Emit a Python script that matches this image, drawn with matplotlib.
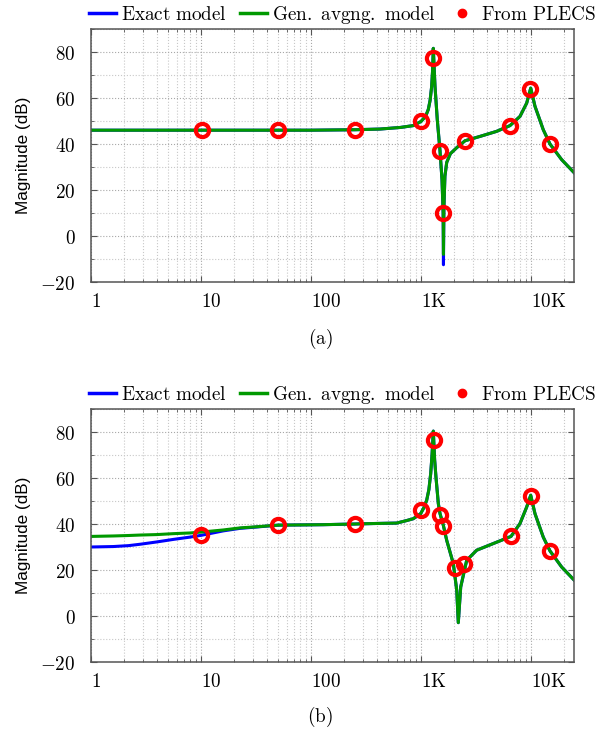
import matplotlib
matplotlib.use('Agg')
import matplotlib.pyplot as plt
from matplotlib.lines import Line2D
from matplotlib.ticker import LogLocator, NullFormatter, MultipleLocator

plt.rcParams['mathtext.fontset'] = 'cm'

# ---- panel (a) ----
freq_a = [1, 10, 50, 100, 250, 424, 650, 851, 1000, 1100, 1165, 1210, 1250, 1275, 1294,
          1320, 1341, 1406, 1489, 1552, 1590, 1600, 1615, 1650, 1713, 1850, 2113, 2512,
          3437, 4870, 6442, 7943, 9140, 9940, 10870, 12930, 14880, 19000, 24800]
exact_a = [46, 46, 46, 46, 46.2, 46.5, 47.2, 48, 49.8, 52, 55, 59, 65, 72, 81.6,
           72, 65, 50.6, 37, 24.5, 10, -12.5, 12, 26, 32, 35.8, 38.4, 41.4,
           43.3, 45.5, 48, 52, 57.8, 64.3, 56.4, 46.2, 40, 33.2, 27.4]
gen_a = [46, 46, 46, 46, 46.2, 46.5, 47.2, 48, 49.8, 52, 55, 59, 65, 72, 81.6,
         72, 65, 50.6, 37, 24.5, 10, -8, 12, 26, 32, 35.8, 38.4, 41.4,
         43.3, 45.5, 48, 52, 57.8, 64.3, 56.4, 46.2, 40, 33.2, 27.4]
plecs_f_a = [10.2, 50.4, 251, 1000, 1294, 1489, 1595, 2512, 6442, 9790, 14880]
plecs_m_a = [45.9, 45.9, 45.9, 49.8, 77.3, 36.9, 10, 41.2, 47.8, 63.9, 39.8]

# ---- panel (b) ----
freq_b = [1, 1.6, 2.2, 2.8, 3.96, 5.6, 7.94, 10.1, 15.9, 22.6, 32.1, 50.3, 129, 251, 368, 601,
          741, 851, 993, 1060, 1126, 1180, 1225, 1260, 1294, 1330, 1368, 1437, 1489, 1595,
          1713, 1966, 2113, 2183, 2296, 2602, 3206, 4540, 6580, 7943, 9140, 9940, 10870,
          12930, 14880, 19000, 24800]
exact_b = [30, 30.2, 30.6, 31.2, 32.2, 33.3, 34.3, 35.1, 37.0, 38.1, 38.7, 39.5, 39.7, 40.0, 40.2,
           40.4, 41.5, 42.3, 44.5, 47, 50.3, 55, 61.9, 70, 80.4, 68, 60.4, 48.9, 44.5, 39.5,
           32.9, 22.8, 11.2, -2.9, 12.6, 24.2, 28.6, 31.5, 34.6, 40.2, 47.4, 52.5, 44.5,
           34.3, 28.3, 21.3, 15.5]
gen_b = [34.6, 34.8, 35.0, 35.2, 35.4, 35.8, 36.1, 36.5, 37.4, 38.3, 38.8, 39.5, 39.7, 40.0, 40.2,
         40.4, 41.5, 42.3, 44.5, 47, 50.3, 55, 61.9, 70, 80.4, 68, 60.4, 48.9, 44.5, 39.5,
         32.9, 22.8, 11.2, -2.9, 12.6, 24.2, 28.6, 31.5, 34.6, 40.2, 47.4, 52.5, 44.5,
         34.3, 28.3, 21.3, 15.5]
plecs_f_b = [10.1, 50.3, 251, 993, 1321, 1489, 1595, 2037, 2477, 6580, 9940, 14880]
plecs_m_b = [35.1, 39.7, 40.2, 46, 76.7, 43.8, 39, 20.9, 22.5, 34.6, 52, 28.3]

xticks = [1, 10, 100, 1000, 10000]
xlabels = [r'$1$', r'$10$', r'$100$', r'$1\mathrm{K}$', r'$10\mathrm{K}$']
yticks = [-20, 0, 20, 40, 60, 80]
ylabels = [r'$-20$', r'$0$', r'$20$', r'$40$', r'$60$', r'$80$']

blue = '#0000ff'
green = '#009900'
red = '#ff0000'
fs = 13.8


def draw(ax, f, exact, gen, pf, pm, caption, cap_y):
    ax.plot(f, exact, color=blue, lw=2.2, zorder=2)
    ax.plot(f, gen, color=green, lw=2.2, zorder=2.1)
    ax.plot(pf, pm, ls='none', marker='o', ms=9.5, mfc='none', mec=red, mew=3.0, zorder=3)
    ax.set_xscale('log')
    ax.set_xlim(1, 2.46e4)
    ax.set_ylim(-20, 90)
    ax.set_xticks(xticks)
    ax.set_xticklabels(xlabels, ha='left', fontsize=fs)
    ax.xaxis.set_minor_locator(LogLocator(base=10, subs=range(2, 10), numticks=20))
    ax.xaxis.set_minor_formatter(NullFormatter())
    ax.set_yticks(yticks)
    ax.set_yticklabels(ylabels, fontsize=fs)
    ax.yaxis.set_minor_locator(MultipleLocator(10))
    ax.tick_params(which='both', direction='in', top=True, right=True, color='#555555')
    ax.tick_params(which='major', length=4, width=0.8)
    ax.tick_params(which='minor', length=2.5, width=0.6)
    ax.tick_params(axis='y', pad=11)
    ax.tick_params(axis='x', pad=7)
    ax.grid(True, which='major', color='#a8a8a8', ls=':', lw=0.8)
    ax.grid(True, which='minor', color='#c8c8c8', ls=':', lw=0.8)
    ax.set_axisbelow(True)
    for s in ax.spines.values():
        s.set_color('#555555')
        s.set_linewidth(1.1)
    ax.set_ylabel('Magnitude (dB)', family='Liberation Sans', fontsize=12.3)
    ax.yaxis.set_label_coords(-0.125, 0.5)

    handles = [Line2D([], [], color=blue, lw=2.5),
               Line2D([], [], color=green, lw=2.5),
               Line2D([], [], ls='none', marker='o', ms=6, color=red)]
    labels = [r'$\mathrm{Exact\ model}$', r'$\mathrm{Gen.\ avgng.\ model}$',
              r'$\mathrm{From\ PLECS}$']
    ax.legend(handles, labels, loc='lower center', bbox_to_anchor=(0.52, 1.005), ncol=3,
              frameon=False, fontsize=fs, handlelength=1.4, handletextpad=0.25,
              columnspacing=0.7, borderaxespad=0.0, borderpad=0.1)
    fig.text(320 / 603, 1 - cap_y / 734, caption, ha='center', va='center', fontsize=fs)


fig = plt.figure(figsize=(6.03, 7.34), dpi=100)
ax_a = fig.add_axes([91 / 603, 1 - 282 / 734, 483 / 603, 253 / 734])
ax_b = fig.add_axes([91 / 603, 1 - 662 / 734, 483 / 603, 253 / 734])

draw(ax_a, freq_a, exact_a, gen_a, plecs_f_a, plecs_m_a, r'$\mathrm{(a)}$', 339)
draw(ax_b, freq_b, exact_b, gen_b, plecs_f_b, plecs_m_b, r'$\mathrm{(b)}$', 717)

fig.savefig('out.png', dpi=100)
